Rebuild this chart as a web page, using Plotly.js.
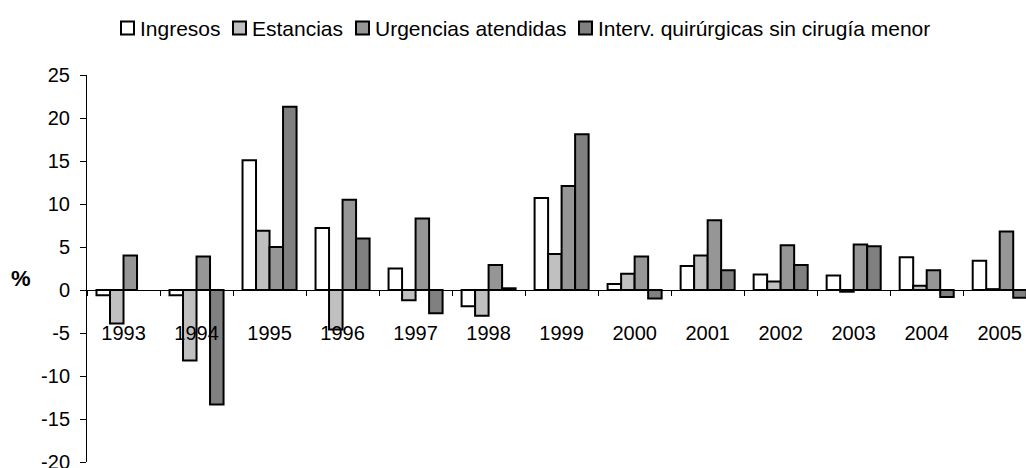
<!DOCTYPE html>
<html>
<head>
<meta charset="utf-8">
<script src="https://cdn.plot.ly/plotly-3.0.1.min.js"></script>
<style>html,body{margin:0;padding:0;background:#fff;}#chart{width:1026px;height:468px;}</style>
</head>
<body>
<div id="chart"></div>
<script>
var years = ["1993","1994","1995","1996","1997","1998","1999","2000","2001","2002","2003","2004","2005"];
var seriesNames = ["Ingresos","Estancias","Urgencias atendidas","Interv. quirúrgicas sin cirugía menor"];
var ingresos   = [-0.6, -0.6, 15.1, 7.2, 2.5, -1.9, 10.7, 0.7, 2.8, 1.8, 1.7, 3.8, 3.4];
var estancias  = [-3.9, -8.2, 6.9, -4.6, -1.2, -3.0, 4.2, 1.9, 4.0, 1.0, -0.2, 0.5, 0.1];
var urgencias  = [4.0, 3.9, 5.0, 10.5, 8.3, 2.9, 12.1, 3.9, 8.1, 5.2, 5.3, 2.3, 6.8];
var interv     = [null, -13.3, 21.3, 6.0, -2.7, 0.2, 18.1, -1.0, 2.3, 2.9, 5.1, -0.8, -0.9];
var yTicks = [-20, -15, -10, -5, 0, 5, 10, 15, 20, 25];

var colors = ["#ffffff", "#c0c0c0", "#969696", "#808080"];
var values = [ingresos, estancias, urgencias, interv];

var W = 1026, H = 468, ML = 87, MR = 0, MT = 75, MB = 6;
var PW = W - ML - MR, PH = H - MT - MB;

var traces = values.map(function (v, i) {
  return {
    type: "bar",
    name: seriesNames[i],
    x: years,
    y: v,
    marker: {color: colors[i], line: {color: "#000000", width: 2}},
    showlegend: false,
    hoverinfo: "skip"
  };
});

var font = "Liberation Sans, Arial, sans-serif";

// Custom legend (Excel-like compact layout): text starting pixels
var legendTextX = [138, 250, 373, 596];
var legendY = 28;
function px2x(p) { return (p - ML) / PW; }
function py2y(p) { return (H - MB - p) / PH; }

var shapes = [];
var annotations = [];
seriesNames.forEach(function (name, i) {
  var tx = legendTextX[i];
  shapes.push({
    type: "rect", xref: "paper", yref: "paper",
    x0: px2x(tx - 17), x1: px2x(tx - 4),
    y0: py2y(legendY + 6.5), y1: py2y(legendY - 6.5),
    fillcolor: colors[i], line: {color: "#000000", width: 2}
  });
  annotations.push({
    text: name, xref: "paper", yref: "paper",
    x: px2x(tx), y: py2y(legendY),
    xanchor: "left", yanchor: "middle", showarrow: false,
    font: {family: font, size: 21, color: "#000000"}
  });
});
annotations.push({
  text: "<b>%</b>",
  xref: "paper", yref: "paper",
  x: px2x(21), y: py2y(278),
  xanchor: "center", yanchor: "middle",
  showarrow: false,
  font: {family: font, size: 22, color: "#000000"}
});

var layout = {
  width: W,
  height: H,
  margin: {l: ML, r: MR, t: MT, b: MB, pad: 0},
  paper_bgcolor: "#ffffff",
  plot_bgcolor: "#ffffff",
  barmode: "group",
  bargap: 0.26,
  bargroupgap: 0,
  font: {family: font, size: 20, color: "#000000"},
  showlegend: false,
  xaxis: {
    type: "category",
    range: [-0.5, 12.36],
    anchor: "free",
    position: 20 / 45,
    showline: true,
    linecolor: "#000000",
    linewidth: 1,
    showgrid: false,
    zeroline: false,
    ticks: "outside",
    tickson: "boundaries",
    ticklen: 5,
    tickwidth: 1,
    tickcolor: "#000000",
    ticklabelstandoff: 25,
    tickfont: {family: font, size: 20, color: "#000000"},
    fixedrange: true
  },
  yaxis: {
    range: [-20, 25],
    tickvals: yTicks,
    ticktext: yTicks.map(String),
    showline: true,
    linecolor: "#000000",
    linewidth: 1,
    showgrid: false,
    zeroline: false,
    ticks: "outside",
    ticklen: 6,
    tickwidth: 1,
    tickcolor: "#000000",
    ticklabelstandoff: 6,
    ticklabeloverflow: "allow",
    tickfont: {family: font, size: 20, color: "#000000"},
    fixedrange: true
  },
  shapes: shapes,
  annotations: annotations
};

Plotly.newPlot("chart", traces, layout, {displayModeBar: false, staticPlot: true});
</script>
</body>
</html>
